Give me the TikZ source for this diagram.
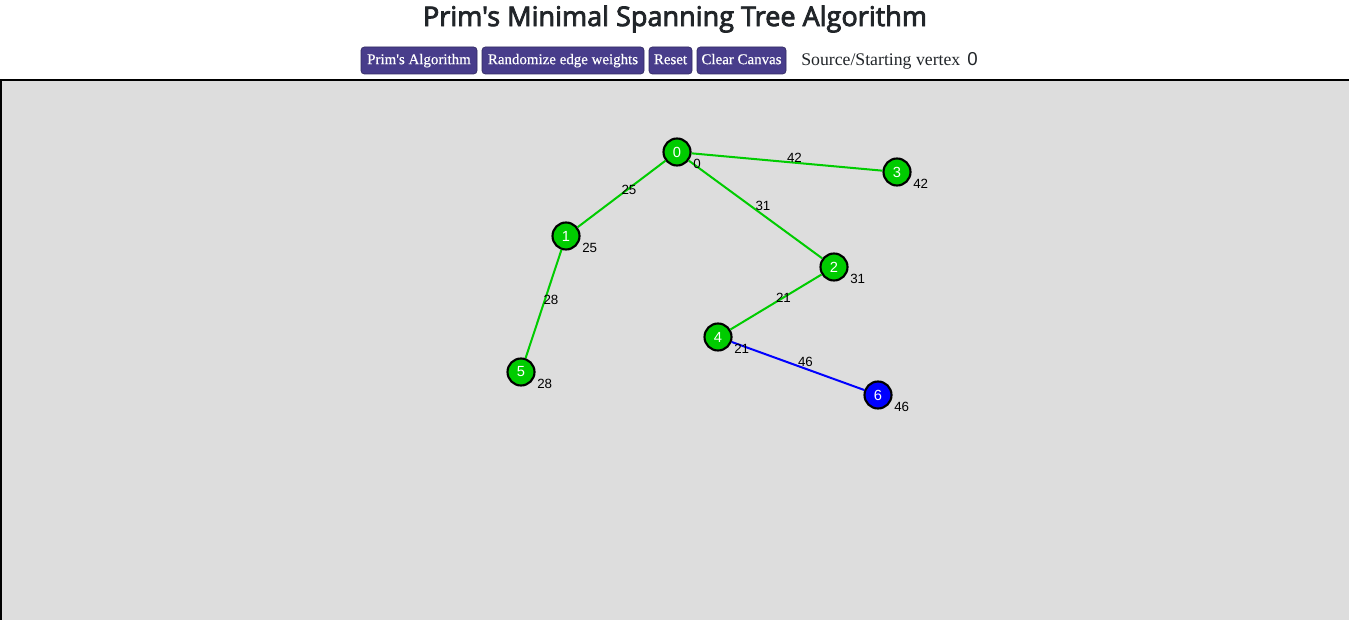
\documentclass[tikz,border=0pt]{standalone}
\usepackage{fontspec}
\setmainfont{Liberation Serif}
\newfontfamily\arialf{Liberation Sans}
\newfontfamily\titlef[FakeBold=3]{Open Sans}
\newfontfamily\btnf[FakeBold=0.5]{Liberation Serif}
\definecolor{btn}{HTML}{483D8B}
\definecolor{canvasgray}{HTML}{DDDDDD}
\definecolor{vgreen}{RGB}{0,204,0}
\definecolor{vblue}{RGB}{0,0,255}
\definecolor{titlecol}{HTML}{212529}
\tikzset{
  vert/.style={circle, draw=black, line width=1.6pt, minimum size=27*0.75pt, inner sep=0pt, text=white, font=\arialf\fontsize{11pt}{12pt}\selectfont},
  gv/.style={vert, fill=vgreen},
  bv/.style={vert, fill=vblue},
  gedge/.style={draw=vgreen, line width=1.5pt},
  bedge/.style={draw=vblue, line width=1.5pt},
  wlab/.style={font=\arialf\fontsize{10pt}{11pt}\selectfont, text=black, inner sep=0pt, xshift=5.6pt, yshift=3pt},
  dlab/.style={font=\arialf\fontsize{10pt}{11pt}\selectfont, text=black, inner sep=0pt, anchor=west},
  button/.style={fill=btn, draw=btn!70!black, line width=0.5pt, rounded corners=2.5pt, text=white, font=\btnf\fontsize{11.2pt}{13pt}\selectfont, inner sep=0pt, minimum height=27*0.75pt, text height=1.6ex, text depth=0.4ex}
}
\begin{document}
\begin{tikzpicture}[x=0.75pt,y=-0.75pt]
\useasboundingbox (0,0) rectangle (1349,620);
\fill[white] (0,0) rectangle (1349,620);
% canvas
\fill[canvasgray] (0,80) rectangle (1349,620);
\draw[black, line width=1.5pt] (1,620) -- (1,80) -- (1349,80);
% title
\node[font=\titlef\fontsize{20.3pt}{24pt}\selectfont, text=titlecol] (title) at (675,19) {Prim's Minimal Spanning Tree Algorithm};
% buttons
\node[button, minimum width=116*0.75pt] (b1) at (419,60.5) {Prim's Algorithm};
\node[button, minimum width=162*0.75pt] (b2) at (563,60.5) {Randomize edge weights};
\node[button, minimum width=43*0.75pt] (b3) at (670.5,60.5) {Reset};
\node[button, minimum width=89*0.75pt] (b4) at (741.5,60.5) {Clear Canvas};
\node[anchor=west, inner sep=0pt, font=\fontsize{13.3pt}{15pt}\selectfont, text=titlecol] (src) at (801,61.5) {Source/Starting vertex};
\node[anchor=west, inner sep=0pt, font=\arialf\fontsize{14pt}{16pt}\selectfont, text=titlecol] (srcv) at (967,59.5) {0};
% vertices
\node[gv] (n0) at (677,152) {0};
\node[gv] (n1) at (566,236) {1};
\node[gv] (n2) at (834,267) {2};
\node[gv] (n3) at (897,172) {3};
\node[gv] (n4) at (718,337) {4};
\node[gv] (n5) at (521,372) {5};
\node[bv] (n6) at (878,395) {6};
% edges
\draw[gedge] (n0) -- node[wlab] (w03) {42} (n3);
\draw[gedge] (n0) -- node[wlab] (w01) {25} (n1);
\draw[gedge] (n0) -- node[wlab] (w02) {31} (n2);
\draw[gedge] (n1) -- node[wlab] (w15) {28} (n5);
\draw[gedge] (n2) -- node[wlab] (w24) {21} (n4);
\draw[bedge] (n4) -- node[wlab] (w46) {46} (n6);
% distance labels
\node[dlab] (d0) at ([shift={(16,12)}]n0.center) {0};
\node[dlab] (d1) at ([shift={(16,12)}]n1.center) {25};
\node[dlab] (d2) at ([shift={(16,12)}]n2.center) {31};
\node[dlab] (d3) at ([shift={(16,12)}]n3.center) {42};
\node[dlab] (d4) at ([shift={(16,12)}]n4.center) {21};
\node[dlab] (d5) at ([shift={(16,12)}]n5.center) {28};
\node[dlab] (d6) at ([shift={(16,12)}]n6.center) {46};
\end{tikzpicture}
\end{document}
